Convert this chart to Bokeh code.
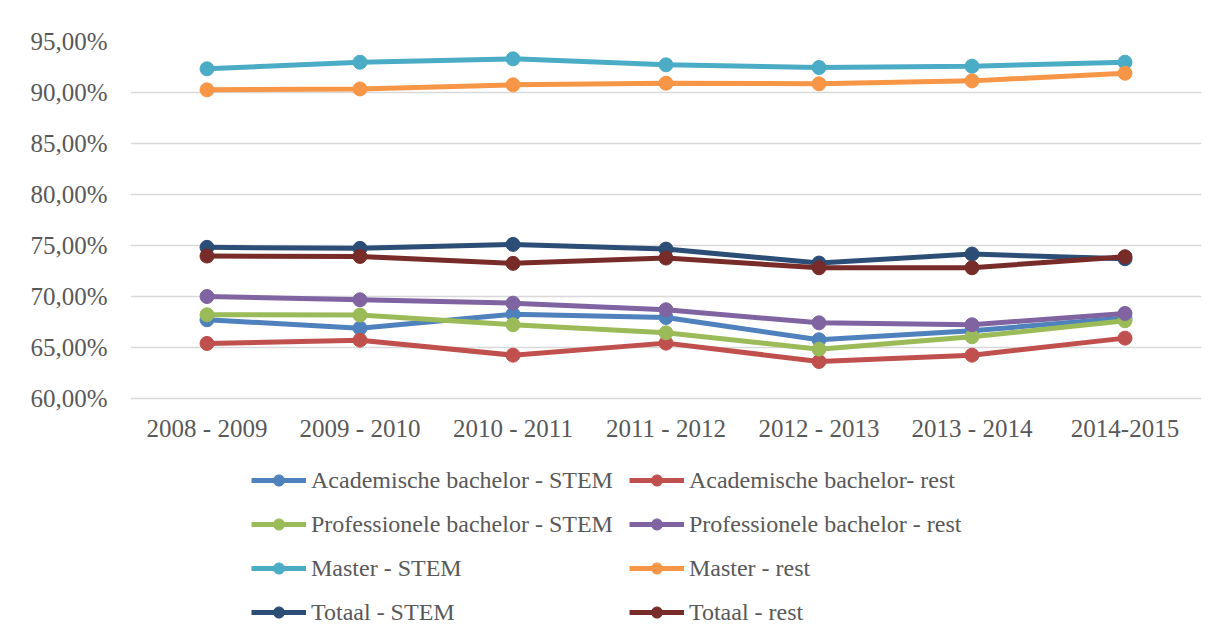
from bokeh.plotting import figure
from bokeh.models import Legend, LegendItem, FixedTicker, FactorRange, Range1d
from bokeh.embed import file_html
from bokeh.resources import INLINE

years = ["2008 - 2009", "2009 - 2010", "2010 - 2011", "2011 - 2012",
         "2012 - 2013", "2013 - 2014", "2014-2015"]

acad_stem = [67.72, 66.90, 68.27, 67.95, 65.76, 66.64, 67.90]
acad_rest = [65.40, 65.72, 64.25, 65.43, 63.63, 64.25, 65.92]
prof_stem = [68.21, 68.18, 67.23, 66.44, 64.84, 66.05, 67.62]
prof_rest = [70.00, 69.68, 69.35, 68.70, 67.42, 67.23, 68.34]
master_stem = [92.32, 92.97, 93.30, 92.71, 92.45, 92.58, 92.97]
master_rest = [90.26, 90.35, 90.75, 90.91, 90.85, 91.14, 91.89]
totaal_stem = [74.82, 74.72, 75.11, 74.65, 73.28, 74.16, 73.70]
totaal_rest = [73.97, 73.93, 73.25, 73.77, 72.82, 72.82, 73.90]

series_names = ["Academische bachelor - STEM", "Academische bachelor- rest",
                "Professionele bachelor - STEM", "Professionele bachelor - rest",
                "Master - STEM", "Master - rest",
                "Totaal - STEM", "Totaal - rest"]
series_values = [acad_stem, acad_rest, prof_stem, prof_rest,
                 master_stem, master_rest, totaal_stem, totaal_rest]
series_colors = ["#4F81BD", "#C0504D", "#9BBB59", "#8064A2",
                 "#4BACC6", "#F79646", "#2C4D75", "#772C2A"]

y_ticks = [60, 65, 70, 75, 80, 85, 90, 95]
y_tick_labels = ["60,00%", "65,00%", "70,00%", "75,00%",
                 "80,00%", "85,00%", "90,00%", "95,00%"]

FONT = "'Liberation Serif', serif"
TXT = "#595959"

# the frame extends below the 60% line so the legend can sit inside it;
# the value axis shows only 60..95 and the category axis is pinned at 60
Y_TOP = 95
Y_BOTTOM_VIEW = 36.67

p = figure(x_range=FactorRange(*years), y_range=Range1d(Y_BOTTOM_VIEW, Y_TOP),
           width=1221, height=636, output_backend="svg", toolbar_location=None,
           min_border_left=130, min_border_right=20, min_border_top=41,
           min_border_bottom=0)
p.outline_line_color = None
p.background_fill_color = "white"
p.border_fill_color = "white"

p.xgrid.grid_line_color = None
p.ygrid.grid_line_color = "#d9d9d9"
p.ygrid.grid_line_width = 1.5

p.yaxis.ticker = FixedTicker(ticks=y_ticks)
p.yaxis.major_label_overrides = {t: l for t, l in zip(y_ticks, y_tick_labels)}
p.xaxis.fixed_location = y_ticks[0]
for ax in (p.xaxis[0], p.yaxis[0]):
    ax.axis_line_color = None
    ax.major_tick_line_color = None
    ax.minor_tick_line_color = None
    ax.major_label_text_font = FONT
    ax.major_label_text_font_size = "25px"
    ax.major_label_text_color = TXT
p.yaxis.major_label_standoff = 17
p.xaxis.major_label_standoff = 10

items = []
for name, vals, col in zip(series_names, series_values, series_colors):
    r1 = p.line(years, vals, line_color=col, line_width=5)
    r2 = p.scatter(years, vals, size=14, fill_color=col, line_color=col)
    items.append(LegendItem(label=name, renderers=[r1, r2]))

legend = Legend(items=items, ncols=2, orientation="horizontal", location=(121, 10))
legend.label_text_font = FONT
legend.label_text_font_size = "24px"
legend.label_text_color = TXT
legend.border_line_color = None
legend.background_fill_alpha = 0
legend.glyph_width = 55
legend.glyph_height = 28
legend.label_standoff = 5
legend.spacing = 16
legend.padding = 5
legend.margin = 0
p.add_layout(legend, "center")

open("out.html", "w").write(file_html(p, INLINE))
